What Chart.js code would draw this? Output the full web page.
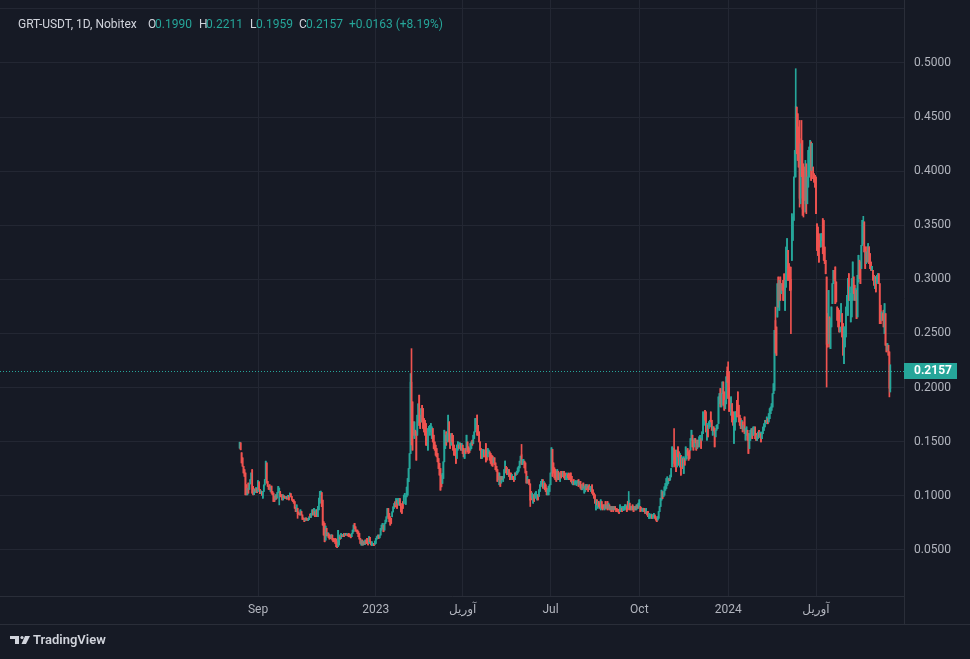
<!DOCTYPE html>
<html>
<head>
<meta charset="utf-8">
<title>GRT-USDT 1D</title>
<script src="https://cdn.jsdelivr.net/npm/chart.js@4.4.1/dist/chart.umd.min.js"></script>
<style>
  html,body{margin:0;padding:0;background:#161a25;}
  canvas{display:block;}
</style>
</head>
<body>
<canvas id="chart" width="970" height="659"></canvas>
<script>
// GRT-USDT, 1D, Nobitex — one [open, close] pair per day, starting 2022-08-13
// prices in 1/10000 USDT (1495 = 0.1495)
const startDate = '2022-08-13';
const dailyOC = [
  // Aug - Nov 2022
  [1440,1495],[1490,1425],[1398,1304],[1351,1273],[1273,1211],[1242,1180],[1211,1009],[1102,1009],[1009,1070],[1118,1025],
  [1060,1110],[1110,1150],[1150,1211],[1242,1025],[1087,1009],[1010,1060],[1065,1040],[1030,1075],[1070,1030],[1040,1140],
  [1130,1060],[1060,1020],[1020,1045],[1040,1005],[978,1040],[1040,1100],[1100,1150],[1150,1320],[1304,1118],[1133,1087],
  [1090,1060],[1102,1056],[1040,1087],[1090,1025],[1040,1009],[1025,947],[994,947],[963,1009],[1009,970],[980,1030],
  [1030,1087],[1030,1071],[1040,994],[1010,990],[1009,963],[963,1009],[1000,985],[995,975],[975,995],[990,968],
  [978,1005],[1005,963],[994,1025],[1020,990],[994,960],[963,947],[963,932],[947,885],[894,854],[854,916],
  [885,835],[850,830],[838,823],[823,870],[855,823],[823,782],[795,785],[792,761],[770,795],[795,778],
  [790,772],[772,792],[780,805],[830,800],[800,838],[823,870],[870,823],[823,885],[854,807],[823,870],
  [870,807],[807,901],[870,978],[932,1040],[1010,1043],[1030,900],[960,729],[760,637],
  // Nov 2022 - Jan 2023
  [745,575],[590,720],[700,630],[630,660],[655,615],[640,600],[635,605],[610,640],[637,591],[606,575],
  [600,578],[606,560],[600,529],[575,520],[530,680],[545,637],[620,600],[606,652],[637,622],[625,643],
  [652,622],[637,652],[652,637],[637,652],[643,630],[652,622],[643,622],[637,612],[622,652],[652,683],
  [668,729],[745,698],[714,675],[683,668],[683,652],[668,622],[652,600],[606,560],[545,591],[591,545],
  [545,581],[575,551],[551,591],[591,560],[606,560],[591,545],[560,622],[616,575],[575,545],[538,575],
  [551,560],[560,538],[551,581],[560,606],[600,622],[606,637],[637,606],[612,637],[637,698],[683,729],
  [698,745],[729,668],[683,745],[745,775],[760,806],[806,883],[883,791],[837,760],[806,729],[791,745],
  [806,852],[852,898],[883,929],[945,898],[914,975],[960,883],[929,975],[914,975],[975,914],[929,852],
  [898,837],[945,883],[929,1006],[990,1022],
  // Feb - May 2023
  [920,1000],[990,1080],[1006,1160],[1130,1252],[1252,1390],[1390,2050],[2050,1870],[1868,1422],[1683,1560],[1530,1683],
  [1606,1560],[1591,1329],[1560,1745],[1680,1850],[1930,1650],[1745,1622],[1683,1806],[1837,1683],[1806,1622],[1714,1591],
  [1698,1560],[1668,1468],[1591,1468],[1422,1622],[1600,1640],[1560,1652],[1591,1668],[1530,1637],[1622,1498],[1560,1437],
  [1498,1422],[1468,1375],[1437,1360],[1391,1314],[1345,1252],[1300,1191],[1252,1052],[1191,1083],[1114,1206],[1160,1314],
  [1314,1606],[1437,1560],[1591,1468],[1498,1575],[1514,1745],[1683,1498],[1560,1437],[1468,1575],[1575,1498],[1560,1422],
  [1468,1375],[1437,1375],[1422,1300],[1345,1468],[1422,1498],[1470,1440],[1437,1490],[1483,1422],[1422,1483],[1468,1391],
  [1437,1360],[1345,1422],[1437,1391],[1422,1560],[1498,1406],[1452,1391],[1440,1400],[1422,1483],[1437,1498],[1514,1468],
  [1483,1560],[1530,1591],[1591,1714],[1622,1714],[1745,1560],[1652,1560],[1591,1498],[1498,1422],[1437,1345],[1345,1422],
  [1400,1430],[1422,1360],[1375,1422],[1483,1314],[1422,1330],[1360,1437],[1391,1422],[1406,1330],[1391,1300],[1375,1283],
  // May - Aug 2023
  [1366,1273],[1304,1351],[1351,1289],[1304,1242],[1273,1227],[1242,1133],[1211,1149],[1102,1211],[1180,1087],[1118,1180],
  [1180,1150],[1133,1180],[1165,1242],[1227,1320],[1273,1211],[1258,1196],[1196,1242],[1242,1180],[1211,1149],[1211,1165],
  [1149,1196],[1180,1149],[1180,1133],[1149,1211],[1211,1190],[1196,1227],[1211,1258],[1227,1273],[1258,1320],[1304,1366],
  [1380,1290],[1289,1335],[1304,1335],[1320,1258],[1304,1211],[1227,1118],[1118,1180],[1149,1118],[1149,1102],[1110,960],
  [1040,963],[978,1025],[932,1009],[1009,947],[978,1025],[994,1040],[963,1009],[1009,963],[994,1056],[1040,1102],
  [1087,1133],[1102,1149],[1149,1071],[1071,1133],[1118,1056],[1102,1040],[1071,1009],[1009,1056],[1009,1087],[1040,1102],
  [1102,1211],[1211,1444],[1429,1180],[1304,1211],[1258,1165],[1242,1149],[1227,1133],[1149,1242],[1227,1149],[1211,1149],
  [1133,1211],[1227,1165],[1227,1180],[1180,1227],[1227,1165],[1211,1149],[1149,1180],[1149,1211],[1196,1165],[1211,1149],
  [1196,1149],[1211,1133],[1180,1118],[1102,1133],[1149,1102],[1102,1133],[1110,1140],[1095,1130],
  // Aug - Oct 2023
  [1118,1143],[1149,1087],[1102,1134],[1134,1071],[1102,1056],[1056,1102],[1118,1071],[1025,1087],[1040,1102],[1102,1056],
  [1071,1102],[1087,1040],[1102,1056],[1060,1080],[1040,1087],[1102,1025],[1056,1009],[1025,978],[1009,932],[870,963],
  [963,916],[885,947],[947,901],[932,885],[870,963],[947,885],[916,870],[916,885],[870,916],[947,885],
  [885,916],[947,870],[885,932],[916,870],[870,901],[901,854],[870,901],[901,854],[870,901],[900,875],
  [885,854],[880,860],[875,850],[870,838],[854,916],[870,901],[885,854],[863,901],[870,901],[870,916],
  [885,916],[901,854],[947,870],[885,960],[932,870],[901,870],[870,901],[916,870],[901,854],[870,901],
  [901,870],[870,916],[916,885],[885,932],[901,963],[901,854],[890,860],[860,880],[854,885],[885,854],
  [870,838],[838,885],[854,823],[854,807],[792,838],[792,823],[800,830],[823,792],[792,823],[807,838],
  [823,792],[807,776],[792,761],[776,807],[792,854],[854,901],[901,978],
  // Oct 2023 - Jan 2024
  [960,1052],[1037,975],[991,1037],[1006,1083],[1052,1114],[1068,1160],[1098,1175],[1114,1160],[1160,1140],[1145,1191],
  [1175,1252],[1268,1452],[1329,1437],[1440,1300],[1422,1283],[1391,1222],[1268,1422],[1452,1360],[1406,1283],[1268,1391],
  [1375,1191],[1268,1360],[1345,1252],[1206,1360],[1345,1283],[1329,1452],[1345,1422],[1437,1375],[1406,1329],[1422,1345],
  [1422,1529],[1514,1606],[1560,1452],[1514,1422],[1452,1529],[1529,1490],[1514,1422],[1437,1514],[1514,1452],[1452,1545],
  [1498,1560],[1529,1437],[1514,1591],[1575,1775],[1652,1760],[1791,1698],[1775,1591],[1514,1668],[1652,1545],[1622,1683],
  [1637,1698],[1775,1683],[1698,1606],[1560,1637],[1637,1600],[1622,1452],[1545,1606],[1606,1652],[1620,1660],[1668,1914],
  [1852,1945],[1991,1822],[1822,1945],[1945,2052],[2052,1837],[1960,1791],[1806,1883],[1850,2100],[2150,2050],[2100,1900],
  [2000,1780],[1900,1800],[1745,1914],[1852,1683],[1775,1652],[1483,1698],[1606,1775],[1683,1775],[1883,1729],[1960,1791],
  [1837,1683],[1745,1652],[1714,1622],[1622,1698],[1683,1591],[1606,1652],[1729,1575],[1514,1622],[1560,1637],[1606,1514],
  [1575,1391],
  // Jan - Apr 2024
  [1436,1574],[1512,1605],[1543,1620],[1620,1528],[1559,1636],[1574,1636],[1636,1528],[1574,1512],[1512,1560],[1528,1590],
  [1605,1543],[1543,1590],[1574,1497],[1528,1590],[1574,1636],[1605,1666],[1636,1697],[1697,1680],[1666,1728],[1713,1666],
  [1682,1759],[1713,1805],[1759,1820],[1790,1851],[1820,1944],[1944,2036],[1974,2529],[2620,2320],[2560,2298],[2652,2960],
  [3022,2744],[2714,2991],[3022,2806],[2868,2960],[2960,2900],[2991,2806],[3052,2806],[2714,2991],[2929,3299],[3114,3376],
  [3268,2991],[3145,3022],[3114,2898],[3000,2900],[3176,3607],[3360,3576],[3545,3946],[3946,4192],[4190,4600],[4592,4161],
  [4531,4100],[4408,4038],[4300,3750],[3750,4200],[4250,3950],[4000,3650],[3900,3620],[4038,3730],[3700,4000],[4000,3700],
  [3699,3946],[3853,4192],[3946,4223],[4007,4284],[4269,3915],[4007,4254],[4038,3930],[3976,3899],[3961,3853],[3946,3607],
  [3514,3268],[3484,3222],[3422,3160],[3360,3299],[3299,3422],[3360,3422],[3561,3237],[3545,3176],[3299,3145],[3176,3052],
  [3022,2400],[2683,2375],[2406,2898],
  // Apr - Jun 2024
  [2653,2376],[2360,2638],[2561,2745],[2776,2961],[2961,3084],[3084,2992],[3115,2776],[2976,2792],[2745,2622],[2730,2561],
  [2715,2514],[2514,2560],[2607,2776],[2684,2468],[2591,2299],[2222,2561],[2376,2499],[2468,2745],[2715,2853],[2668,3007],
  [3053,2807],[2807,2930],[2607,2869],[2653,3007],[2807,3161],[3023,2869],[2946,2807],[2807,2915],[2900,2638],[2653,3038],
  [2976,3223],[3177,3007],[3161,2961],[3100,3315],[3315,3546],[3330,3500],[3531,3254],[3300,3100],[3146,3254],[3300,3161],
  [3161,3331],[3300,3146],[3238,3100],[3161,3084],[3084,3120],[3084,2992],[3038,2946],[2915,3023],[3023,2884],[2961,3038],
  [2976,3053],[3053,2961],[2961,2591],[2761,2591],[2622,2699],[2684,2622],[2715,2561],[2499,2776],[2684,2391],[2407,2330],
  [2345,2407],[2391,2299],[2330,1994],[1990,2157]
];

// [day, low, high] for days whose wick reaches past the body
const wicks = [
  [41,916,1071],[60,792,885],[177,1390,2130],[178,1470,2360],[292,1290,1475],[301,901,1110],
  [403,885,1040],[450,1268,1622],[505,2050,2191],[506,1900,2237],[507,1780,2145],[555,2320,2744],
  [571,2498,3114],[576,3946,4947],[580,3668,4469],[581,3699,4254],[582,3950,4469],[583,3591,4284],
  [584,3576,4069],[586,3622,4100],[587,3607,4069],[608,2005,3022],[646,3330,3583],[673,1914,2330],
  [674,1959,2211]
];

// time axis: day index of each label (Sep 1, Jan 1, Apr 1, ...)
const timeTickDays = [19, 141, 231, 322, 414, 506, 597];
const timeTickLabels = ['Sep', '2023', 'آوریل', 'Jul', 'Oct', '2024', 'آوریل'];
const priceTicks = [0.05, 0.10, 0.15, 0.20, 0.25, 0.30, 0.35, 0.40, 0.45, 0.50];
const priceGridOnly = [0.55];

const legendSymbol = 'GRT-USDT, 1D, Nobitex';
const legendKeys = ['O', 'H', 'L', 'C'];
const legendValues = ['0.1990', '0.2211', '0.1959', '0.2157'];
const legendChange = '+0.0163 (+8.19%)';
const lastPrice = 0.2157;

const BG = '#161a25';
const GRID = '#232733';
const AXIS_LINE = '#2a2e39';
const TEXT = '#b2b5be';
const UP = '#26a69a';
const DOWN = '#ef5350';
const FONT = "Roboto, 'DejaVu Sans', sans-serif";

// build the datasets
const wickByDay = {};
wicks.forEach(([d, lo, hi]) => { wickByDay[d] = [lo / 1e4, hi / 1e4]; });

const bodyData = [];
const wickData = [];
const colors = [];
dailyOC.forEach(([o, c], i) => {
  const op = o / 1e4, cl = c / 1e4;
  bodyData.push({ x: i, y: [op, cl] });
  wickData.push({ x: i, y: wickByDay[i] || [Math.min(op, cl), Math.max(op, cl)] });
  colors.push(c >= o ? UP : DOWN);
});

// background, price line, legend, logo
const chrome = {
  id: 'chrome',
  beforeDraw(chart){
    const ctx = chart.ctx;
    ctx.save();
    ctx.fillStyle = BG;
    ctx.fillRect(0, 0, chart.width, chart.height);
    ctx.restore();
  },
  beforeDatasetsDraw(chart){
    const ctx = chart.ctx, area = chart.chartArea;
    const y = Math.round(chart.scales.y.getPixelForValue(lastPrice)) + 0.5;
    ctx.save();
    ctx.strokeStyle = UP;
    ctx.lineWidth = 1;
    ctx.setLineDash([1, 2]);
    ctx.beginPath();
    ctx.moveTo(area.left, y);
    ctx.lineTo(area.right, y);
    ctx.stroke();
    ctx.restore();
  },
  afterDraw(chart){
    const ctx = chart.ctx, area = chart.chartArea;
    ctx.save();

    // axis frame bits below the time scale
    ctx.strokeStyle = AXIS_LINE;
    ctx.lineWidth = 1;
    ctx.beginPath();
    ctx.moveTo(0, 624.5); ctx.lineTo(chart.width, 624.5);
    ctx.moveTo(area.right + 0.5, area.bottom); ctx.lineTo(area.right + 0.5, 624);
    ctx.stroke();

    // last price label
    const y = chart.scales.y.getPixelForValue(lastPrice);
    ctx.fillStyle = UP;
    ctx.fillRect(area.right, Math.round(y - 8), 53, 16);
    ctx.fillStyle = '#ffffff';
    ctx.font = 'bold 12px ' + FONT;
    ctx.textBaseline = 'middle';
    ctx.textAlign = 'left';
    ctx.fillText(lastPrice.toFixed(4), area.right + 10, y + 0.5);

    // legend
    ctx.font = '12px ' + FONT;
    ctx.fillStyle = '#d1d4dc';
    ctx.fillText(legendSymbol, 18, 25);
    const keyX = [148, 199, 250, 299];
    const valX = [155, 206, 256, 306];
    legendKeys.forEach((k, i) => {
      ctx.fillStyle = '#d1d4dc';
      ctx.fillText(k, keyX[i], 25);
      ctx.fillStyle = UP;
      ctx.fillText(legendValues[i], valX[i], 25);
    });
    ctx.fillStyle = UP;
    ctx.fillText(legendChange, 349, 25);

    // TradingView logo
    ctx.fillStyle = '#d1d4dc';
    ctx.fillRect(10, 636, 9, 3);
    ctx.fillRect(15, 636, 4, 8);
    ctx.beginPath();
    ctx.arc(22, 637.5, 1.6, 0, Math.PI * 2);
    ctx.fill();
    ctx.beginPath();
    ctx.moveTo(25, 636); ctx.lineTo(30, 636); ctx.lineTo(26, 644); ctx.lineTo(21.5, 644);
    ctx.closePath();
    ctx.fill();
    ctx.font = '600 13px ' + FONT;
    ctx.fillText('TradingView', 33, 641);

    ctx.restore();
  }
};

new Chart(document.getElementById('chart'), {
  type: 'bar',
  data: {
    datasets: [
      { data: wickData, backgroundColor: colors, barThickness: 1, grouped: false, borderWidth: 0 },
      { data: bodyData, backgroundColor: colors, barThickness: 1, grouped: false, borderWidth: 0 }
    ]
  },
  options: {
    responsive: false,
    animation: false,
    devicePixelRatio: 1,
    events: [],
    layout: { padding: 0 },
    plugins: { legend: { display: false }, tooltip: { enabled: false } },
    scales: {
      x: {
        type: 'linear',
        min: -248.25,
        max: 688.15,
        offset: false,
        grid: { color: GRID, drawTicks: false, offset: false },
        border: { color: AXIS_LINE },
        afterBuildTicks: s => { s.ticks = timeTickDays.map(v => ({ value: v })); },
        afterFit: s => { s.height = 63; s.paddingLeft = 0; s.paddingRight = 0; },
        ticks: {
          autoSkip: false, maxRotation: 0, padding: 7, color: TEXT,
          font: { family: FONT, size: 12 },
          callback: (v, i) => timeTickLabels[i]
        }
      },
      y: {
        position: 'right',
        min: 0.0074,
        max: 0.5582,
        grid: { color: GRID, drawTicks: false },
        border: { color: AXIS_LINE },
        afterBuildTicks: s => { s.ticks = priceTicks.concat(priceGridOnly).map(v => ({ value: v })); },
        afterFit: s => { s.width = 66; s.paddingTop = 0; s.paddingBottom = 0; },
        ticks: {
          padding: 10, color: TEXT,
          font: { family: FONT, size: 12 },
          callback: v => priceGridOnly.includes(v) ? '' : v.toFixed(4)
        }
      }
    }
  },
  plugins: [chrome]
});
</script>
</body>
</html>
